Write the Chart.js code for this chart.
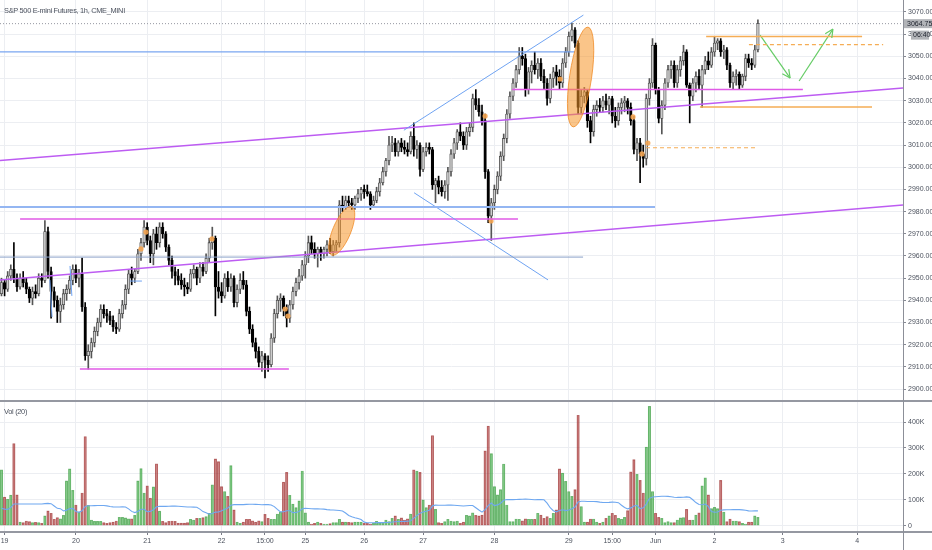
<!DOCTYPE html>
<html>
<head>
<meta charset="utf-8">
<script src="https://cdn.jsdelivr.net/npm/chart.js@4.4.1/dist/chart.umd.min.js"></script>
<style>
  body { margin: 0; background: #fff; width: 932px; height: 550px; overflow: hidden; position: relative;
         font-family: "Liberation Sans Narrow", "Liberation Sans", Arial, sans-serif; }
  #priceBox { position: absolute; left: 0; top: 0; width: 932px; height: 400px; }
  #volBox { position: absolute; left: 0; top: 401px; width: 932px; height: 149px; }
  .hline { position: absolute; left: 0; width: 932px; background: #9598a1; }
  .vline { position: absolute; top: 0; width: 1px; height: 550px; background: #8c8f98; }
  .caption { position: absolute; color: #4c525e; font-size: 7.4px; letter-spacing: -0.3px; white-space: nowrap; }
</style>
</head>
<body>
<div id="priceBox"><canvas id="priceChart" width="932" height="400"></canvas></div>
<div id="volBox"><canvas id="volChart" width="932" height="149"></canvas></div>
<div class="hline" style="top:400px;height:2px"></div>
<div class="hline" style="top:531px;height:2px"></div>
<div class="vline" style="left:903px"></div>
<div class="caption" style="left:4px;top:6px">S&amp;P 500 E-mini Futures, 1h, CME_MINI</div>
<div class="caption" style="left:4px;top:407px">Vol (20)</div>
<script>
// hourly bars
const openP = [
  2943,2948,2945,2951,2954,2950,2946,2950,2948,2945, 2941,2944,2943,2950,2949,2971,2953,2944,2940,2935,
  2938,2943,2945,2949,2954,2950,2952,2937,2915,2917, 2921,2926,2930,2936,2934,2933,2931,2928,2927,2934,
  2938,2945,2952,2950,2953,2961,2966,2973,2967,2961, 2970,2966,2973,2970,2964,2958,2953,2951,2949,2947,
  2946,2945,2952,2954,2950,2955,2953,2959,2966,2968, 2946,2944,2942,2950,2946,2950,2939,2945,2949,2947,
  2935,2927,2921,2917,2912,2915,2913,2911,2923,2934, 2940,2941,2936,2932,2938,2944,2948,2951,2956,2960,
  2966,2963,2961,2963,2961,2963,2965,2962,2965,2966, 2983,2982,2985,2984,2983,2986,2988,2990,2989,2988,
  2983,2985,2989,2993,2998,3003,3010,3011,3007,3011, 3009,3008,3007,3014,3008,3010,2999,3007,3009,3008,
  2992,2994,2991,2989,2992,2998,3006,3011,3016,3014, 3010,3016,3018,3031,3028,3025,3021,2998,2978,2984,
  2990,2996,3005,3013,3024,3032,3038,3044,3050,3049, 3035,3043,3046,3044,3047,3041,3038,3031,3040,3043,
  3041,3038,3047,3052,3059,3062,3056,3027,3032,3034, 3021,3016,3026,3028,3027,3030,3028,3031,3023,3021,
  3027,3029,3030,3027,3021,3008,3011,3006,3004,3031, 3038,3055,3035,3022,3028,3038,3044,3046,3038,3044,
  3048,3052,3037,3032,3038,3041,3037,3044,3048,3046, 3052,3056,3057,3052,3053,3046,3038,3041,3042,3037,
  3041,3049,3047,3046,3053
];
const highP = [
  2950,2949,2953,2956,2966,2952,2952,2953,2950,2946, 2946,2947,2952,2952,2976,2973,2955,2946,2942,2941,
  2945,2947,2951,2956,2956,2954,2959,2939,2920,2923, 2928,2932,2938,2938,2936,2935,2933,2930,2936,2940,
  2947,2954,2955,2954,2963,2968,2976,2975,2969,2972, 2973,2975,2975,2971,2965,2960,2955,2954,2952,2950,
  2948,2954,2956,2955,2957,2957,2961,2968,2973,2969, 2953,2948,2952,2953,2952,2951,2947,2952,2953,2949,
  2937,2929,2923,2919,2917,2916,2915,2925,2936,2942, 2943,2942,2938,2940,2946,2950,2954,2958,2962,2969,
  2969,2966,2964,2964,2964,2967,2968,2967,2967,2985, 2987,2987,2987,2986,2987,2990,2991,2992,2992,2989,
  2987,2991,2995,3000,3004,3014,3014,3013,3012,3013, 3012,3011,3016,3020,3012,3011,3009,3011,3011,3009,
  2995,2996,2994,2994,3000,3008,3013,3017,3020,3016, 3018,3020,3033,3035,3031,3028,3024,2999,2986,2992,
  2998,3007,3015,3026,3034,3040,3046,3054,3054,3051, 3045,3048,3052,3049,3049,3044,3040,3042,3045,3046,
  3044,3049,3054,3061,3065,3063,3057,3035,3036,3035, 3023,3028,3030,3031,3032,3033,3032,3032,3027,3029,
  3031,3032,3031,3029,3023,3013,3013,3010,3033,3040, 3058,3056,3036,3030,3040,3046,3048,3048,3046,3050,
  3055,3053,3038,3040,3043,3044,3046,3050,3052,3054, 3059,3058,3058,3055,3054,3047,3043,3044,3043,3042,
  3051,3051,3049,3055,3066.5
];
const lowP = [
  2942,2942,2944,2949,2948,2944,2945,2946,2943,2939, 2938,2941,2942,2946,2948,2950,2932,2937,2930,2930,
  2936,2940,2943,2947,2948,2946,2935,2913,2909,2914, 2919,2924,2928,2932,2930,2929,2926,2925,2926,2932,
  2936,2943,2947,2948,2952,2958,2964,2965,2957,2956, 2963,2964,2968,2962,2956,2950,2947,2947,2945,2942,
  2943,2944,2950,2947,2948,2951,2952,2957,2963,2933, 2941,2939,2941,2944,2944,2937,2937,2943,2945,2933,
  2925,2919,2914,2910,2908,2905,2908,2910,2921,2932, 2935,2933,2928,2930,2936,2942,2945,2949,2950,2957,
  2961,2959,2955,2958,2959,2960,2961,2960,2962,2964, 2980,2981,2982,2981,2981,2984,2985,2986,2987,2981,
  2982,2984,2987,2992,2996,3001,3007,3005,3005,3007, 3006,3005,3006,3005,3004,2996,2998,3005,3006,2990,
  2984,2988,2987,2986,2985,2996,3004,3008,3012,3008, 3008,3014,3016,3026,3023,3019,2995,2975,2967,2981,
  2988,2994,3003,3011,3022,3030,3036,3042,3046,3032, 3033,3038,3042,3040,3039,3035,3028,3029,3036,3037,
  3035,3036,3045,3050,3057,3054,3024,3024,3029,3018, 3011,3014,3023,3025,3025,3026,3024,3020,3018,3019,
  3024,3025,3024,3019,3006,3003,2993,3000,3001,3028, 3036,3033,3020,3015,3026,3036,3040,3036,3036,3041,
  3046,3036,3020,3030,3034,3035,3027,3042,3044,3045, 3050,3053,3050,3049,3044,3036,3035,3037,3035,3036,
  3039,3045,3044,3045,3052
];
const closeP = [
  2948,2945,2951,2954,2950,2946,2950,2948,2945,2941, 2944,2943,2950,2949,2971,2953,2944,2940,2935,2938,
  2943,2945,2949,2954,2950,2952,2937,2915,2917,2921, 2926,2930,2936,2934,2933,2931,2928,2927,2934,2938,
  2945,2952,2950,2953,2961,2966,2973,2967,2961,2970, 2966,2973,2970,2964,2958,2953,2951,2949,2947,2946,
  2945,2952,2954,2950,2955,2953,2959,2966,2968,2946, 2944,2942,2950,2946,2950,2939,2945,2949,2947,2935,
  2927,2921,2917,2912,2915,2913,2911,2923,2934,2940, 2941,2936,2932,2938,2944,2948,2951,2956,2960,2966,
  2963,2961,2963,2961,2963,2965,2962,2965,2966,2983, 2982,2985,2984,2983,2986,2988,2990,2989,2988,2983,
  2985,2989,2993,2998,3003,3010,3011,3007,3011,3009, 3008,3007,3014,3008,3010,2999,3007,3009,3008,2992,
  2994,2991,2989,2992,2998,3006,3011,3016,3014,3010, 3016,3018,3031,3028,3025,3021,2998,2978,2984,2990,
  2996,3005,3013,3024,3032,3038,3044,3050,3049,3035, 3043,3046,3044,3047,3041,3038,3031,3040,3043,3041,
  3038,3047,3052,3059,3062,3056,3027,3032,3034,3021, 3016,3026,3028,3027,3030,3028,3031,3023,3021,3027,
  3029,3030,3027,3021,3008,3011,3006,3004,3031,3038, 3055,3035,3022,3028,3038,3044,3046,3038,3044,3048,
  3052,3037,3032,3038,3041,3037,3044,3048,3046,3052, 3056,3057,3052,3053,3046,3038,3041,3042,3037,3041,
  3049,3047,3046,3053,3064.75
];
// volume in thousands
const volumeK = [
  216,110,102,118,317,119,14,12,18,16, 12,13,12,9,38,57,48,25,31,27,
  40,173,219,136,80,54,126,344,79,22, 17,17,17,12,9,12,14,18,32,32,
  30,27,27,40,173,220,126,154,107,150, 239,56,17,12,17,18,17,10,10,10,
  12,25,22,28,28,31,35,48,158,258, 247,151,132,113,232,61,14,9,14,25,
  25,19,14,19,16,44,28,25,25,45, 53,168,206,117,83,70,96,211,50,14,
  6,9,14,9,6,6,8,12,12,25, 14,14,13,12,14,14,14,9,9,6,
  9,17,12,9,22,16,28,38,25,30, 22,27,45,216,211,206,100,70,80,348,
  63,12,9,16,25,18,16,18,9,14, 40,38,50,40,38,41,289,384,278,151,
  119,139,238,80,16,16,26,25,19,27, 25,25,25,48,41,28,35,28,48,61,
  219,203,171,132,113,139,426,74,14,14, 26,26,14,9,14,28,38,48,40,28,
  25,32,58,208,255,198,175,126,303,460, 132,48,32,28,12,16,12,12,22,30,
  31,63,22,22,41,50,154,185,119,66, 71,66,175,53,16,26,18,18,16,9,
  6,14,14,38,32
];
// Vol(20) average for the first bars, whose window starts before the picture
const volMaLeadInK = [67,64,63,70,84,84,84,84,84,84,84,84,84,84,85,86,85,76,67];

const priceTicks = [2900,2910,2920,2930,2940,2950,2960,2970,2980,2990,3000,3010,3020,3030,3040,3050,3060,3070];
const volTicksK = [0,100,200,300,400];
const dayTickBars = [1,24,47,71,85,98,117,136,159,183,197,211,230,252,276];
const dayTickLabels = ['19','20','21','22','15:00','25','26','27','28','29','15:00','Jun','2','3','4'];
const lastPriceText = '3064.75';
const countdownText = '06:40';

// drawings on the price pane, in (bar, price) units
const drawings = [
  { pts: [[-0.5,3052.0],[185.0,3052.0]], color: '#7aa6f0', width: 1.2 },
  { pts: [[-0.5,2982.1],[210.8,2982.1]], color: '#94b6f2', width: 2 },
  { pts: [[-0.5,2959.5],[187.6,2959.5]], color: '#8aa0c8', width: 1 },
  { pts: [[129.8,3016.7],[187.7,3068.6]], color: '#6fa3f2', width: 1 },
  { pts: [[133.1,2988.5],[176.3,2949.2]], color: '#6fa3f2', width: 1 },
  { pts: [[41.4,2948.7],[45.3,2948.7]], color: '#6fa3f2', width: 1 },
  { pts: [[15.6,2949.2],[16.3,2932.5]], color: '#6fa3f2', width: 1 },
  { pts: [[22.1,2955.5],[22.7,2942.0]], color: '#6fa3f2', width: 1 },
  { pts: [[-0.5,3003.05],[290.8,3035.7]], color: '#bd5cf2', width: 1.5 },
  { pts: [[-0.5,2949.2],[290.8,2983.0]], color: '#bd5cf2', width: 1.5 },
  { pts: [[6.0,2976.7],[166.6,2976.7]], color: '#e05ae6', width: 1.5 },
  { pts: [[25.3,2909.0],[92.7,2909.0]], color: '#e05ae6', width: 1.5 },
  { pts: [[164.7,3035.1],[258.5,3035.1]], color: '#e05ae6', width: 1.5 },
  { pts: [[227.3,3058.9],[277.6,3058.9]], color: '#f5ad55', width: 1.5 },
  { pts: [[225.3,3027.2],[280.8,3027.2]], color: '#f5ad55', width: 1.5 },
  { pts: [[241.1,3055.3],[284.4,3055.3]], color: '#f5ad55', width: 1.2, dash: [4,3] },
  { pts: [[207.9,3008.8],[243.7,3008.8]], color: '#f5ad55', width: 1.2, dash: [4,3] },
  { pts: [[244.7,3059.6],[254.4,3040.2]], color: '#66cc66', width: 1.2, arrow: true },
  { pts: [[257.3,3038.9],[268.2,3062.3]], color: '#66cc66', width: 1.2, arrow: true }
];
const ellipses = [
  { axis: [[106.5,2960.4],[113.0,2982.2]], halfWidth: 9 },
  { axis: [[184.4,3018.2],[189.2,3063.2]], halfWidth: 11 }
];
const markerPts = [[156.0,3023.1],[180.2,3039.8],[157.9,2975.8],[203.7,3022.7],[208.5,3010.9],
  [206.6,3006.0],[91.5,2936.1],[92.4,2932.9],[45.0,2963.2],[46.6,2970.8],[67.9,2967.7]];

Chart.defaults.font.family = '"Liberation Sans Narrow", "Liberation Sans", Arial, sans-serif';
Chart.defaults.color = '#4c525e';

const xMin = -0.48, xMax = 290.8;
const gridColor = '#eceef2';
const up = closeP.map((c, i) => c >= openP[i]);
const resetPad = s => { s.paddingLeft = 0; s.paddingRight = 0; s.paddingTop = 0; s.paddingBottom = 0; };

const drawingSets = drawings.map(d => ({
  type: 'line',
  data: d.pts.map(p => ({ x: p[0], y: p[1] })),
  borderColor: d.color,
  borderWidth: d.width,
  borderDash: d.dash || [],
  pointRadius: 0,
  order: 0
}));

const overlay = {
  id: 'overlay',
  afterDatasetsDraw(chart) {
    const { ctx, chartArea: a, scales: { x, y } } = chart;
    ctx.save();
    ctx.beginPath();
    ctx.rect(a.left, a.top, a.width, a.height);
    ctx.clip();
    ellipses.forEach(e => {
      const x1 = x.getPixelForValue(e.axis[0][0]), y1 = y.getPixelForValue(e.axis[0][1]);
      const x2 = x.getPixelForValue(e.axis[1][0]), y2 = y.getPixelForValue(e.axis[1][1]);
      const len = Math.hypot(x2 - x1, y2 - y1) / 2;
      ctx.beginPath();
      ctx.ellipse((x1 + x2) / 2, (y1 + y2) / 2, len, e.halfWidth, Math.atan2(y2 - y1, x2 - x1), 0, Math.PI * 2);
      ctx.fillStyle = 'rgba(246,150,40,0.55)';
      ctx.fill();
      ctx.strokeStyle = 'rgba(240,140,40,0.8)';
      ctx.lineWidth = 1;
      ctx.stroke();
    });
    drawings.filter(d => d.arrow).forEach(d => {
      const x1 = x.getPixelForValue(d.pts[0][0]), y1 = y.getPixelForValue(d.pts[0][1]);
      const x2 = x.getPixelForValue(d.pts[1][0]), y2 = y.getPixelForValue(d.pts[1][1]);
      const ang = Math.atan2(y2 - y1, x2 - x1);
      ctx.beginPath();
      [-0.45, 0.45].forEach(o => {
        ctx.moveTo(x2, y2);
        ctx.lineTo(x2 - 9 * Math.cos(ang + o), y2 - 9 * Math.sin(ang + o));
      });
      ctx.strokeStyle = d.color;
      ctx.lineWidth = d.width;
      ctx.stroke();
    });
    ctx.restore();
  },
  afterDraw(chart) {
    const { ctx, chartArea: a, scales: { y } } = chart;
    const py = y.getPixelForValue(closeP[closeP.length - 1]);
    ctx.save();
    ctx.fillStyle = '#b2b4b8';
    ctx.fillRect(a.right + 1, py - 4.5, 28, 9);
    ctx.fillRect(a.right + 8, py + 7, 18, 9);
    ctx.fillStyle = '#1e222d';
    ctx.font = '7px "Liberation Sans Narrow", "Liberation Sans", Arial, sans-serif';
    ctx.textBaseline = 'middle';
    ctx.fillText(lastPriceText, a.right + 4, py);
    ctx.fillText(countdownText, a.right + 10, py + 11.5);
    ctx.restore();
  }
};

new Chart(document.getElementById('priceChart'), {
  type: 'bar',
  data: {
    datasets: [
      ...drawingSets,
      {
        type: 'line',
        data: markerPts.map(p => ({ x: p[0], y: p[1] })),
        showLine: false,
        pointRadius: 2.6,
        pointBorderWidth: 0,
        pointBackgroundColor: 'rgba(244,164,80,0.9)',
        order: 0
      },
      {
        label: 'bodies',
        data: closeP.map((c, i) => ({ x: i, y: [openP[i], c] })),
        backgroundColor: up.map(u => u ? '#cdcdcd' : '#000'),
        borderColor: up.map(u => u ? '#4a4a4a' : '#000'),
        borderWidth: 0.8,
        borderSkipped: false,
        barThickness: 2.6,
        minBarLength: 1,
        grouped: false,
        order: 5
      },
      {
        label: 'wicks',
        data: closeP.map((c, i) => ({ x: i, y: [lowP[i], highP[i]] })),
        backgroundColor: up.map(u => u ? '#555' : '#000'),
        barThickness: 1,
        grouped: false,
        order: 6
      },
      {
        type: 'line',
        data: [{ x: xMin, y: closeP[closeP.length - 1] }, { x: xMax, y: closeP[closeP.length - 1] }],
        borderColor: '#9598a1',
        borderWidth: 1,
        borderDash: [1, 2],
        pointRadius: 0,
        order: 7
      }
    ]
  },
  options: {
    responsive: false,
    animation: false,
    layout: { padding: 0, autoPadding: false },
    plugins: { legend: { display: false }, tooltip: { enabled: false } },
    scales: {
      x: {
        type: 'linear', min: xMin, max: xMax, offset: false,
        grid: { color: gridColor, offset: false, drawTicks: false },
        border: { display: false },
        ticks: { display: false },
        afterBuildTicks: s => { s.ticks = dayTickBars.map(v => ({ value: v })); },
        afterFit: s => { s.height = 0; resetPad(s); }
      },
      y: {
        position: 'right', min: 2895.07, max: 3075.41,
        grid: { color: gridColor, tickLength: 3, tickColor: '#868993' },
        border: { display: false },
        ticks: { font: { size: 7 }, padding: 2, callback: v => v.toFixed(2) },
        afterBuildTicks: s => { s.ticks = priceTicks.map(v => ({ value: v })); },
        afterFit: s => { s.width = 29; resetPad(s); }
      }
    }
  },
  plugins: [overlay]
});

const volMaK = volumeK.map((v, i) => {
  if (i < volMaLeadInK.length) return volMaLeadInK[i];
  const win = volumeK.slice(i - 19, i + 1);
  return win.reduce((s, n) => s + n, 0) / win.length;
});

new Chart(document.getElementById('volChart'), {
  type: 'bar',
  data: {
    datasets: [
      {
        type: 'line',
        data: volMaK.map((m, i) => ({ x: i, y: m })),
        borderColor: '#6fa8f0',
        borderWidth: 1.1,
        pointRadius: 0,
        order: 0
      },
      {
        data: volumeK.map((v, i) => ({ x: i, y: v })),
        backgroundColor: up.map(u => u ? 'rgba(70,175,76,0.62)' : 'rgba(165,45,45,0.55)'),
        borderColor: up.map(u => u ? 'rgba(60,150,64,0.65)' : 'rgba(150,40,40,0.6)'),
        borderWidth: 0.5,
        borderSkipped: false,
        barThickness: 2.5,
        grouped: false,
        order: 1
      }
    ]
  },
  options: {
    responsive: false,
    animation: false,
    layout: { padding: 0, autoPadding: false },
    plugins: { legend: { display: false }, tooltip: { enabled: false } },
    scales: {
      x: {
        type: 'linear', min: xMin, max: xMax, offset: false,
        grid: { color: gridColor, offset: false, tickLength: 4, tickColor: '#787b86' },
        border: { display: false },
        ticks: { font: { size: 7 }, padding: 2, maxRotation: 0, autoSkip: false,
                 callback: (v, idx) => dayTickLabels[idx] },
        afterBuildTicks: s => { s.ticks = dayTickBars.map(v => ({ value: v })); },
        afterFit: s => { s.height = 19; resetPad(s); }
      },
      y: {
        position: 'right', min: -20.4, max: 481,
        grid: { color: gridColor, tickLength: 3, tickColor: '#868993' },
        border: { display: false },
        ticks: { font: { size: 7 }, padding: 2, callback: v => v === 0 ? '0' : v + 'K' },
        afterBuildTicks: s => { s.ticks = volTicksK.map(v => ({ value: v })); },
        afterFit: s => { s.width = 29; resetPad(s); }
      }
    }
  }
});
</script>
</body>
</html>
